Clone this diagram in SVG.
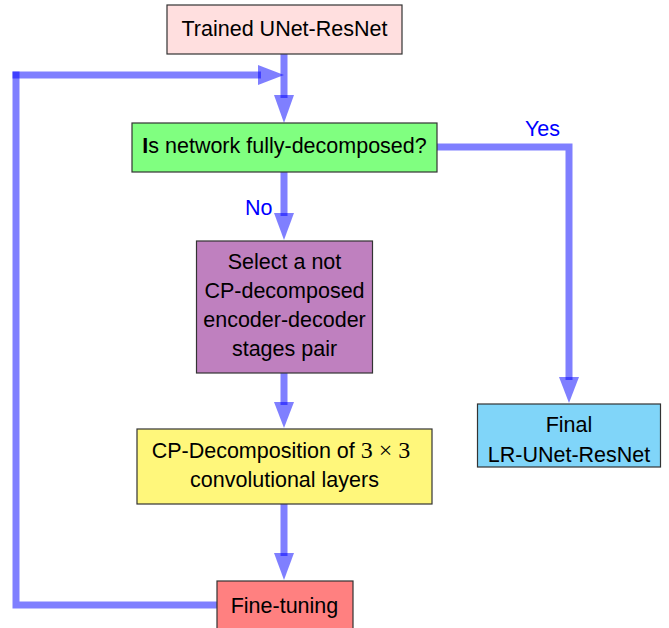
<svg xmlns="http://www.w3.org/2000/svg" width="669" height="628" viewBox="0 0 669 628">
<style>
.box{stroke:#333333;stroke-width:1.2}
.t{font-family:"Liberation Sans","DejaVu Sans",sans-serif;font-size:21.5px;fill:#000;text-anchor:middle}
.m{font-family:"Liberation Serif",serif;font-size:24px}
.lbl{font-family:"Liberation Sans","DejaVu Sans",sans-serif;font-size:21.5px;fill:#0000ff}
.ln{fill:none;stroke:#0000ff;stroke-opacity:0.5;stroke-width:7}
.ah{fill:#0000ff;fill-opacity:0.5}
</style>
<rect width="669" height="628" fill="#ffffff"/>
<g id="connectors">
<path class="ln" d="M284,54 V98"/>
<polygon class="ah" points="274,95 294,95 284,123"/>
<path class="ln" d="M217,605 H16 V71.5"/>
<path class="ln" d="M12.5,75 H261"/>
<polygon class="ah" points="258,65 258,85 284,75"/>
<path class="ln" d="M284,172 V216"/>
<polygon class="ah" points="274,213 294,213 284,240"/>
<path class="ln" d="M284,373 V405"/>
<polygon class="ah" points="274,402 294,402 284,428"/>
<path class="ln" d="M284,504 V556"/>
<polygon class="ah" points="274,553 294,553 284,580"/>
<path class="ln" d="M437,147 H569 V380"/>
<polygon class="ah" points="559,377 579,377 569,403"/>
<text class="lbl" x="245" y="215">No</text>
<text class="lbl" x="525" y="136">Yes</text>
</g>
<g id="trained">
<rect class="box" x="167" y="5" width="235" height="49" fill="#ffdfdf"/>
<text class="t" x="284.5" y="36" font-size="22">Trained UNet-ResNet</text>
</g>
<g id="decision">
<rect class="box" x="132" y="123" width="305" height="49" fill="#80ff80"/>
<text class="t" x="284.5" y="153"><tspan font-weight="bold">I</tspan>s network fully-decomposed?</text>
</g>
<g id="select">
<rect class="box" x="196.5" y="241" width="176" height="132" fill="#bf80bf"/>
<text class="t" x="284.5" y="269">Select a not</text>
<text class="t" x="284.5" y="298">CP-decomposed</text>
<text class="t" x="284.5" y="327">encoder-decoder</text>
<text class="t" x="284.5" y="356">stages pair</text>
</g>
<g id="cpdecomp">
<rect class="box" x="137" y="429" width="295" height="75" fill="#fff77b"/>
<text class="t" x="281" y="458">CP-Decomposition of <tspan class="m">3 × 3</tspan></text>
<text class="t" x="284.5" y="487">convolutional layers</text>
</g>
<g id="finetune">
<rect class="box" x="217" y="581" width="136" height="60" fill="#ff8080"/>
<text class="t" x="284.5" y="613">Fine-tuning</text>
</g>
<g id="final">
<rect class="box" x="477.5" y="404" width="183" height="63" fill="#80d5f9"/>
<text class="t" x="569" y="432">Final</text>
<text class="t" x="569" y="462">LR-UNet-ResNet</text>
</g>
</svg>
